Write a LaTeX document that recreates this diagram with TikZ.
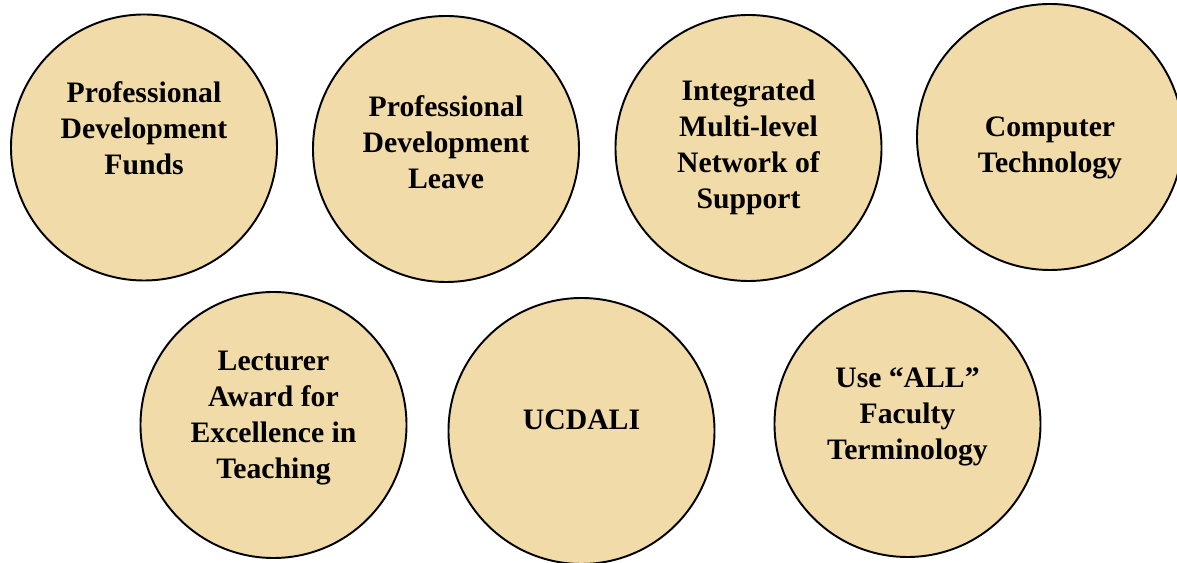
\documentclass[tikz,border=0pt]{standalone}
\usepackage{fontspec}
\setmainfont{Liberation Serif}
\usepackage{tikz}
\definecolor{sand}{HTML}{F0DBA9}
\tikzset{
	bubble/.style={circle,fill=sand,draw=black,line width=1.1pt,inner sep=0pt, minimum size=5.32cm},
	lbl/.style={align=center,font=\bfseries\fontsize{16.9}{20.5}\selectfont,inner sep=0pt},
	}

\begin{document}
\begin{tikzpicture}
 \useasboundingbox (0,0) rectangle (23.54,11.26);
 \clip (0,0) rectangle (23.54,11.26);

\node (funds) at (2.88,8.31) [bubble,label={[lbl,yshift=3.8mm]center:Professional\\Development\\Funds}] {};
\node (leave) at (8.92,8.28) [bubble,label={[lbl,yshift=1.4mm]center:Professional\\Development\\Leave}] {};
\node (network) at (14.97,8.30) [bubble,label={[lbl,yshift=0.2mm]center:Integrated\\Multi-level\\Network of\\Support}] {};
\node (tech) at (21.0,8.52) [bubble,label={[lbl,yshift=-2.2mm]center:Computer\\Technology}] {};
\node (award) at (5.47,2.76) [bubble,label={[lbl,yshift=1.4mm]center:Lecturer\\Award for\\Excellence in\\Teaching}] {};
\node (ucdali) at (11.63,2.64) [bubble,label={[lbl,yshift=2.2mm]center:UCDALI}] {};
\node (all) at (18.15,2.78) [bubble,label={[lbl,yshift=1.4mm]center:Use “ALL”\\Faculty\\Terminology}] {};
\end{tikzpicture}
\end{document}
